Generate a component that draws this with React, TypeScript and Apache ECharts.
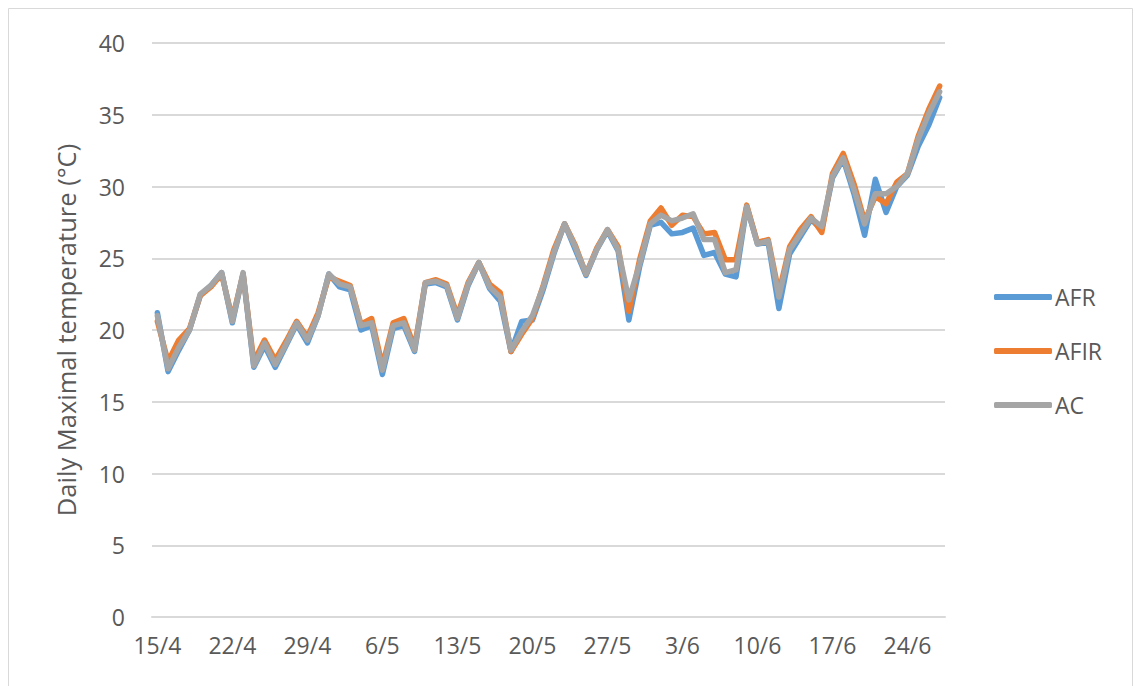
import React, { useEffect, useRef } from "react";
import * as echarts from "echarts";

const dates: string[] = [
  "15/4", "16/4", "17/4", "18/4", "19/4", "20/4", "21/4", "22/4", "23/4", "24/4", "25/4", "26/4", "27/4", "28/4", "29/4", "30/4",
  "1/5", "2/5", "3/5", "4/5", "5/5", "6/5", "7/5", "8/5", "9/5", "10/5", "11/5", "12/5", "13/5", "14/5", "15/5", "16/5",
  "17/5", "18/5", "19/5", "20/5", "21/5", "22/5", "23/5", "24/5", "25/5", "26/5", "27/5", "28/5", "29/5", "30/5", "31/5",
  "1/6", "2/6", "3/6", "4/6", "5/6", "6/6", "7/6", "8/6", "9/6", "10/6", "11/6", "12/6", "13/6", "14/6", "15/6", "16/6",
  "17/6", "18/6", "19/6", "20/6", "21/6", "22/6", "23/6", "24/6", "25/6", "26/6", "27/6",
];

const afr: number[] = [
  21.2, 17.1, 18.6, 20.0, 22.4, 23.1, 24.0, 20.5, 23.9, 17.4, 18.9, 17.4, 18.9, 20.4, 19.1, 21.0,
  23.9, 23.0, 22.8, 20.0, 20.3, 16.9, 20.1, 20.3, 18.5, 23.2, 23.3, 23.0, 20.7, 23.1, 24.7, 22.9,
  22.0, 18.5, 20.6, 20.7, 22.8, 25.3, 27.4, 25.6, 23.8, 25.6, 26.9, 25.5, 20.7, 24.4, 27.3, 27.5,
  26.7, 26.8, 27.1, 25.2, 25.4, 23.9, 23.7, 28.6, 26.0, 26.1, 21.5, 25.3, 26.5, 27.7, 27.0, 30.6,
  31.9, 29.5, 26.6, 30.5, 28.2, 30.0, 30.8, 32.8, 34.3, 36.2,
];

const afir: number[] = [
  20.6, 17.8, 19.3, 20.1, 22.4, 23.0, 23.9, 20.8, 23.9, 17.8, 19.3, 17.9, 19.2, 20.6, 19.5, 21.2,
  23.7, 23.4, 23.1, 20.4, 20.8, 17.5, 20.5, 20.8, 18.8, 23.3, 23.5, 23.2, 21.0, 23.3, 24.7, 23.2,
  22.6, 18.5, 19.7, 20.8, 23.1, 25.6, 27.4, 25.9, 23.9, 25.7, 27.0, 25.8, 21.3, 24.9, 27.6, 28.5,
  27.3, 28.0, 27.9, 26.7, 26.8, 24.9, 24.9, 28.7, 26.1, 26.3, 22.6, 25.8, 27.0, 27.9, 26.8, 30.9,
  32.3, 30.2, 27.6, 29.3, 28.8, 30.3, 30.9, 33.5, 35.4, 37.0,
];

const ac: number[] = [
  21.0, 17.3, 18.8, 20.0, 22.5, 23.1, 24.0, 20.6, 24.0, 17.5, 19.1, 17.6, 19.0, 20.5, 19.3, 21.0,
  23.9, 23.2, 23.0, 20.3, 20.5, 17.2, 20.3, 20.5, 18.6, 23.3, 23.4, 23.1, 20.8, 23.2, 24.7, 23.0,
  22.3, 18.6, 19.9, 21.0, 23.0, 25.4, 27.4, 25.8, 23.9, 25.6, 27.0, 25.6, 22.1, 24.6, 27.4, 28.0,
  27.6, 27.8, 28.1, 26.3, 26.3, 24.0, 24.2, 28.6, 26.0, 26.2, 22.3, 25.6, 26.7, 27.8, 27.2, 30.7,
  32.0, 29.8, 27.4, 29.5, 29.5, 30.0, 30.9, 33.3, 35.1, 36.6,
];

const seriesNames: string[] = ["AFR", "AFIR", "AC"];
const seriesColors: string[] = ["#5B9BD5", "#ED7D31", "#A5A5A5"];
const yTitle = "Daily Maximal temperature (°C)";

const FONT = "'Open Sans', 'Liberation Sans', sans-serif";

export default function App() {
  const ref = useRef<HTMLDivElement>(null);

  useEffect(() => {
    if (!ref.current) return;
    const chart = echarts.init(ref.current, undefined, { renderer: "svg" });
    const values = [afr, afir, ac];
    chart.setOption({
      animation: false,
      backgroundColor: "#ffffff",
      textStyle: { fontFamily: FONT },
      grid: { left: 152, right: 190, top: 43, bottom: 69, containLabel: false },
      legend: {
        orient: "vertical",
        left: 989,
        top: 280,
        itemWidth: 58,
        itemHeight: 6,
        itemGap: 30,
        icon: "roundRect",
        data: seriesNames,
        textStyle: { fontFamily: FONT, fontSize: 23, color: "#595959", lineHeight: 24, padding: [0, 0, 0, -2] },
      },
      xAxis: {
        type: "category",
        data: dates,
        boundaryGap: true,
        axisLine: { show: true, lineStyle: { color: "#d9d9d9", width: 2 } },
        axisTick: { show: false },
        axisLabel: {
          interval: 6,
          fontFamily: FONT,
          fontSize: 23,
          color: "#595959",
          margin: 16,
        },
        splitLine: { show: false },
      },
      yAxis: {
        type: "value",
        min: 0,
        max: 40,
        interval: 5,
        name: yTitle,
        nameLocation: "middle",
        nameGap: 73,
        nameRotate: 90,
        nameTextStyle: { fontFamily: FONT, fontSize: 25.5, color: "#595959" },
        axisLine: { show: false },
        axisTick: { show: false },
        axisLabel: { fontFamily: FONT, fontSize: 23, color: "#595959", margin: 27 },
        splitLine: { show: true, lineStyle: { color: "#d9d9d9", width: 2 } },
      },
      graphic: [
        {
          type: "rect",
          shape: { x: 8.5, y: 8.5, width: 1124, height: 700 },
          style: { fill: "none", stroke: "#d9d9d9", lineWidth: 1 },
          silent: true,
        },
      ],
      series: seriesNames.map((name, i) => ({
        name,
        type: "line",
        data: values[i],
        showSymbol: false,
        symbol: "none",
        color: seriesColors[i],
        lineStyle: { width: 5.5, color: seriesColors[i], cap: "round", join: "round" },
        itemStyle: { color: seriesColors[i] },
        z: 2 + i,
      })),
    });
    return () => chart.dispose();
  }, []);

  return (
    <div
      ref={ref}
      style={{ position: "fixed", left: 0, top: 0, width: 1135, height: 686, background: "#fff" }}
    />
  );
}
